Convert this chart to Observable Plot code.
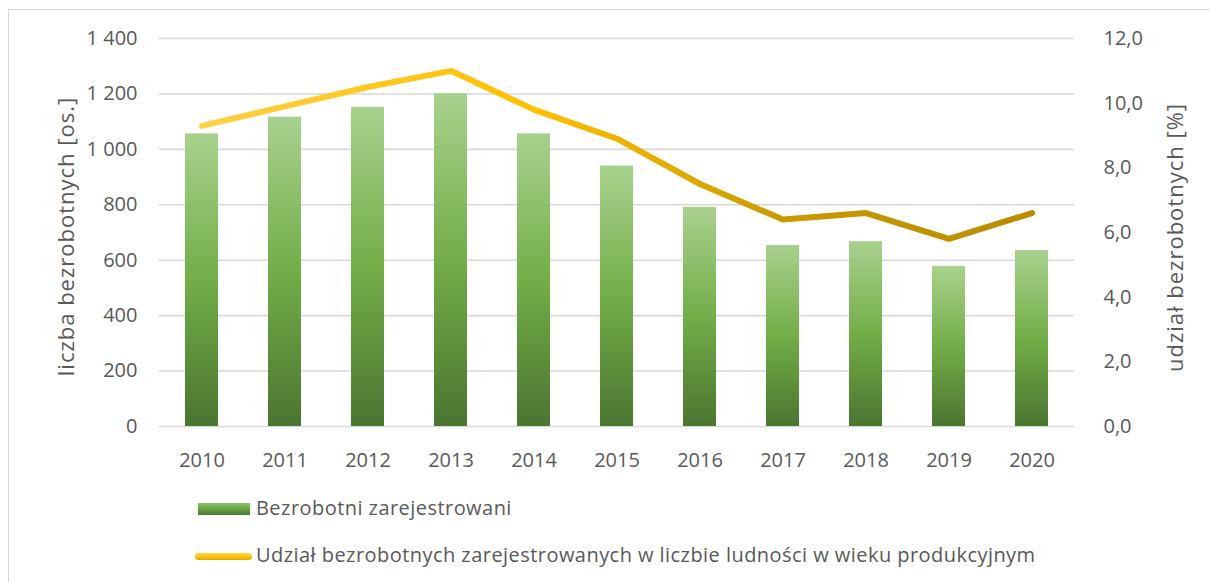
<!DOCTYPE html>
<html>
<head>
<meta charset="utf-8">
<script src="https://cdn.jsdelivr.net/npm/d3@7"></script>
<script src="https://cdn.jsdelivr.net/npm/@observablehq/plot@0.6"></script>
<style>
  html, body { margin: 0; padding: 0; background: #fff; }
  body { font-family: "Open Sans", "Noto Sans", sans-serif; color: #595959; }
  #wrap { position: relative; width: 1210px; height: 582px; overflow: hidden; }
  #frame { position: absolute; left: 8px; top: 9px; width: 1230px; height: 620px; border: 1.5px solid #d9d9d9; box-sizing: border-box; }
  #chart { position: absolute; left: 0; top: 0; }
  .leg { position: absolute; font-size: 20px; letter-spacing: 0.45px; line-height: 24px; color: #595959; white-space: nowrap; }
  .sw { position: absolute; }
</style>
</head>
<body>
<div id="wrap">
  <div id="frame"></div>
  <div id="chart"></div>
  <div class="sw" id="sw1" style="left:198px;top:503px;width:52px;height:12px;background:linear-gradient(to bottom,#8cc46a,#5f9a3c 60%,#4b7a2e);"></div>
  <div class="leg" id="leg1" style="left:256px;top:496px;"></div>
  <div class="sw" id="sw2" style="left:195px;top:553px;width:57px;height:7px;border-radius:4px;background:linear-gradient(to bottom,#ffd34f,#ffc000 60%,#d9a300);"></div>
  <div class="leg" id="leg2" style="left:256px;top:543px;"></div>
</div>
<script>
// ---- data ----
const years = ["2010","2011","2012","2013","2014","2015","2016","2017","2018","2019","2020"];
const unemployed = [1056, 1116, 1152, 1201, 1056, 940, 791, 653, 667, 578, 635];
const sharePct = [9.3, 9.9, 10.5, 11.0, 9.8, 8.9, 7.5, 6.4, 6.6, 5.8, 6.6];
const leftTicks = [0, 200, 400, 600, 800, 1000, 1200, 1400];
const rightTicks = [0, 2, 4, 6, 8, 10, 12];
const leftTitle = "liczba bezrobotnych [os.]";
const rightTitle = "udział bezrobotnych [%]";
const seriesNames = ["Bezrobotni zarejestrowani", "Udział bezrobotnych zarejestrowanych w liczbie ludności w wieku produkcyjnym"];

const leftMax = 1400, rightMax = 12;
const toLeft = v => v * leftMax / rightMax;

const data = years.map((y, i) => ({year: y, count: unemployed[i], share: sharePct[i]}));

const fmtLeft = d => d >= 1000 ? `${Math.floor(d / 1000)} ${String(d % 1000).padStart(3, "0")}` : String(d);
const fmtRight = d => (d * rightMax / leftMax).toFixed(1).replace(".", ",");

const chart = Plot.plot({
  width: 1210,
  height: 480,
  marginLeft: 159,
  marginRight: 136,
  marginTop: 38,
  marginBottom: 54,
  style: {fontFamily: '"Open Sans", "Noto Sans", sans-serif', fontSize: "20px", color: "#595959", background: "transparent", overflow: "visible"},
  x: {type: "band", domain: years, paddingInner: 0.6, paddingOuter: 0.3, axis: null},
  y: {domain: [0, leftMax], axis: null},
  marks: [
    Plot.ruleY(leftTicks, {stroke: "#d9d9d9", strokeWidth: 1.6}),
    Plot.barY(data, {x: "year", y: "count", fill: "url(#barGrad)"}),
    Plot.line(data, {x: "year", y: d => toLeft(d.share), stroke: "url(#lineGrad)", strokeWidth: 6, strokeLinecap: "round", strokeLinejoin: "round"}),
    Plot.axisX({tickSize: 0, tickPadding: 26, fontSize: 20, label: null}),
    Plot.axisY({anchor: "left", ticks: leftTicks, tickFormat: fmtLeft, tickSize: 0, tickPadding: 22, fontSize: 20, label: null}),
    Plot.axisY({anchor: "right", ticks: rightTicks.map(toLeft), tickFormat: fmtRight, tickSize: 0, tickPadding: 29, fontSize: 20, label: null}),
    Plot.text([leftTitle], {text: d => d, frameAnchor: "left", textAnchor: "middle", dx: -93, dy: 4, rotate: -90, fontSize: 22, lineAnchor: "middle", fill: "#595959"}),
    Plot.text([rightTitle], {text: d => d, frameAnchor: "right", textAnchor: "middle", dx: 101, dy: 5, rotate: -90, fontSize: 22, lineAnchor: "middle", fill: "#595959"})
  ]
});

// gradients
const svg = d3.select(chart);
const defs = svg.insert("defs", ":first-child");
const bg = defs.append("linearGradient").attr("id", "barGrad").attr("x1", 0).attr("y1", 0).attr("x2", 0).attr("y2", 1);
bg.append("stop").attr("offset", "0%").attr("stop-color", "#a9d18e");
bg.append("stop").attr("offset", "50%").attr("stop-color", "#72ae48");
bg.append("stop").attr("offset", "100%").attr("stop-color", "#4b7530");
const lg = defs.append("linearGradient").attr("id", "lineGrad").attr("x1", 0).attr("y1", 0).attr("x2", 1).attr("y2", 0);
lg.append("stop").attr("offset", "0%").attr("stop-color", "#ffd046");
lg.append("stop").attr("offset", "40%").attr("stop-color", "#ffc000");
lg.append("stop").attr("offset", "70%").attr("stop-color", "#c99a00");
lg.append("stop").attr("offset", "100%").attr("stop-color", "#bb8c00");
svg.selectAll('g[aria-label="text"] text').style("letter-spacing", "1px");

document.getElementById("chart").appendChild(chart);
document.getElementById("leg1").textContent = seriesNames[0];
document.getElementById("leg2").textContent = seriesNames[1];
</script>
</body>
</html>
